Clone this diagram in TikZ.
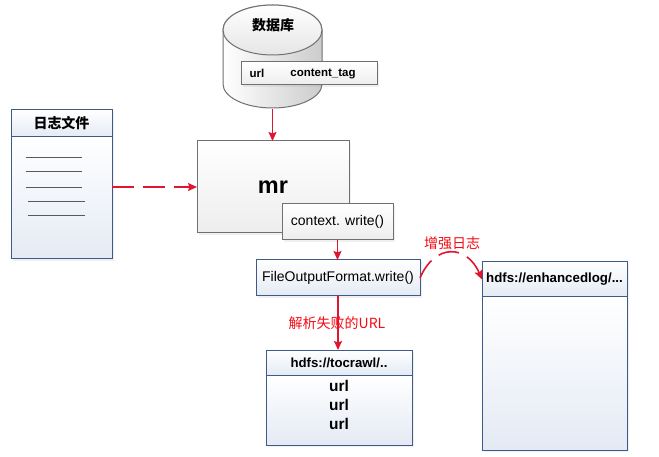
\documentclass[tikz,border=0pt]{standalone}
\usepackage{fontspec}
\setmainfont{Liberation Sans}
\newfontfamily\cjk{Noto Sans CJK SC}
\usetikzlibrary{arrows.meta,positioning,shadows}

\definecolor{flowred}{RGB}{222,22,50}
\definecolor{labelred}{RGB}{245,10,20}
\definecolor{cardblue}{RGB}{61,90,138}
\definecolor{cardfill}{RGB}{228,234,244}
\definecolor{boxgray}{RGB}{112,112,112}

\begin{document}
\begin{tikzpicture}[x=1pt,y=-1pt,
  softshadow/.style={drop shadow={opacity=0.12,shadow xshift=2pt,shadow yshift=-2pt}},
  card/.style={draw=cardblue,line width=1pt,top color=white,bottom color=cardfill,inner sep=0pt,outer sep=0pt,softshadow},
  graybox/.style={draw=boxgray,line width=1pt,top color=white,bottom color=gray!14,inner sep=0pt,outer sep=0pt,softshadow},
  flow/.style={draw=flowred,line width=1.6pt,-{Stealth[length=9pt,width=8pt,inset=1.5pt]}},
  redlabel/.style={text=labelred,font=\cjk\fontsize{14}{16}\selectfont}]
  \useasboundingbox (0,0) rectangle (659,457);

  % database
  \path[draw=boxgray,line width=1pt,left color=white,right color=gray!40]
    (223,30) -- (223,84) arc[start angle=180,end angle=0,x radius=49.5,y radius=24]
    -- (322,30) arc[start angle=0,end angle=-180,x radius=49.5,y radius=25] -- cycle;
  \path[top color=white,bottom color=gray!20] (272.5,30) ellipse[x radius=49.5,y radius=25];
  \draw[boxgray,line width=1pt] (272.5,30) ellipse[x radius=49.5,y radius=25];
  \node[minimum width=99,minimum height=104,inner sep=0pt] (db) at (272.5,57) {};
  \node[font=\cjk\bfseries\fontsize{14}{16}\selectfont] (dblabel) at (273,25) {数据库};
  \node[graybox,minimum width=136,minimum height=23] (dbtable) at (309,73.5) {};
  \node[font=\bfseries\fontsize{11.5}{14}\selectfont] (colurl) at (257,73.5) {url};
  \node[font=\bfseries\fontsize{11.5}{14}\selectfont] (coltag) at (323,73.5) {content\_tag};

  % log file
  \node[card,minimum width=101,minimum height=27,font=\cjk\bfseries\fontsize{14}{16}\selectfont] (loghead) at (61.5,123.5) {日志文件};
  \node[card,minimum width=101,minimum height=122,below=0pt of loghead] (logbody) {};
  \foreach \y/\a/\b in {158/26/82,172/26/82,188/26/82,202/28/85,216/28/85}
    \draw[gray!70!black,line width=1pt] (\a,\y) -- (\b,\y);

  % mr
  \node[graybox,minimum width=152,minimum height=92,font=\bfseries\fontsize{23.5}{26}\selectfont] (mr) at (273,187) {mr};
  \node[graybox,minimum width=111,minimum height=36,font=\fontsize{14}{16}\selectfont] (ctx) at (337.5,222) {context. write()};
  \node[card,minimum width=164,minimum height=36,font=\fontsize{14}{16}\selectfont] (fof) at (338,278) {FileOutputFormat.write()};

  % outputs
  \node[card,minimum width=146,minimum height=25,font=\bfseries\fontsize{13.2}{15}\selectfont] (crawlhead) at (339,362.5) {hdfs://tocrawl/..};
  \node[card,minimum width=146,minimum height=70,below=0pt of crawlhead] (crawlbody) {};
  \node[align=center,font=\bfseries\fontsize{15.5}{19}\selectfont] (urls) at (339,405) {url\\url\\url};
  \node[card,minimum width=145,minimum height=35,font=\bfseries\fontsize{13.3}{15}\selectfont] (enhhead) at (554.5,279.5) {hdfs://enhancedlog/...};
  \node[card,minimum width=145,minimum height=153,below=0pt of enhhead] (enhbody) {};

  % connectors
  \draw[flow] (db.south) -- (db.south |- mr.north);
  \draw[flow,dash pattern=on 22pt off 9pt] (mr.west -| logbody.east) -- (mr.west);
  \draw[flow] (ctx.south) -- (ctx.south |- fof.north);
  \draw[flow] (fof.south) -- (fof.south |- crawlhead.north);
  \draw[flow,dash pattern=on 21pt off 9pt] (fof.east) .. controls +(15,-35) and +(-15,-35) .. (enhhead.west);
  \node[redlabel] (failed) at (337,323) {解析失败的URL};
  \node[redlabel] (enhanced) at (452,243) {增强日志};
\end{tikzpicture}
\end{document}
